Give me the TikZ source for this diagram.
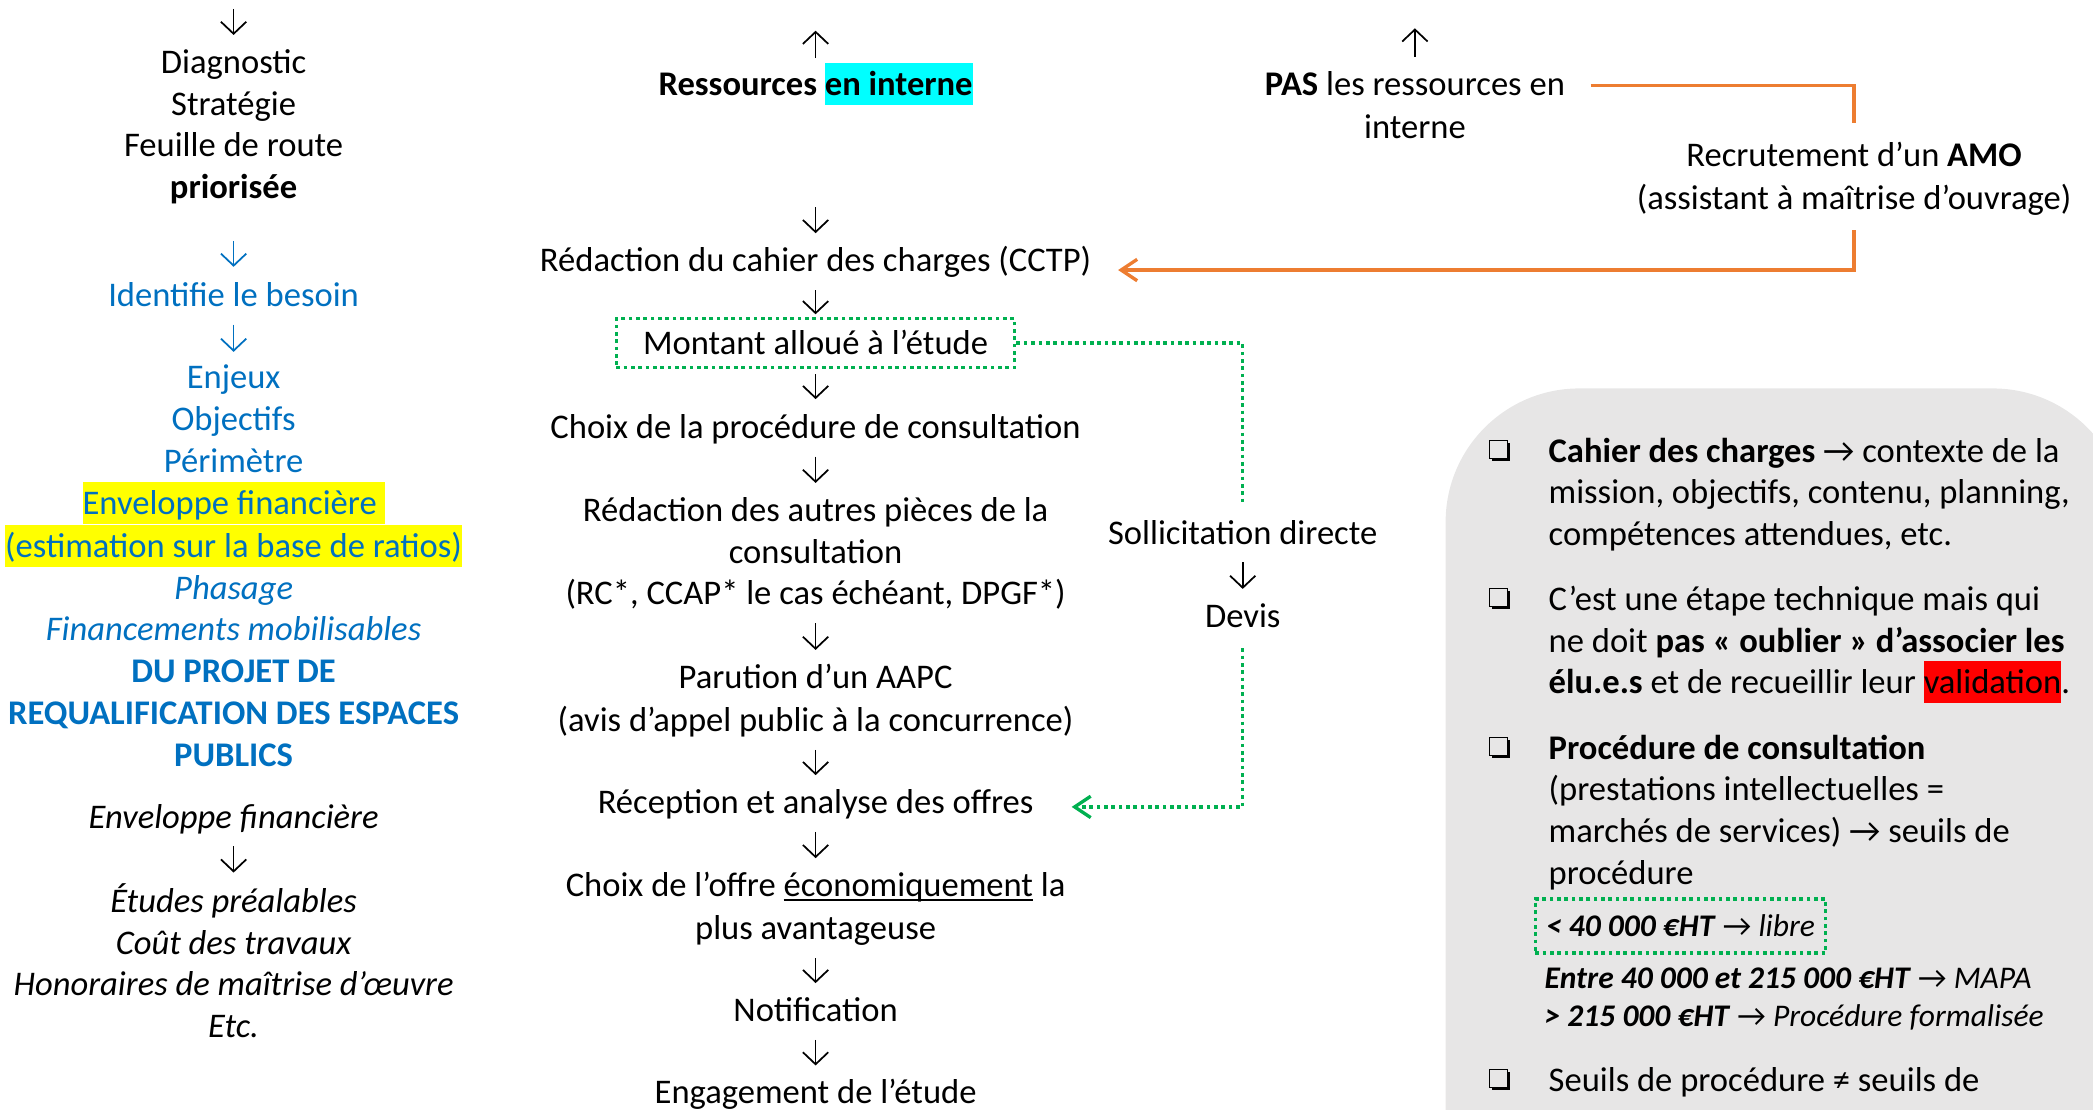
\RequirePackage{fix-cm}
\documentclass[tikz,border=0pt]{standalone}
\usepackage{fontspec}
\setmainfont{Carlito}
\usepackage{xcolor}
\usetikzlibrary{arrows.meta,shadows}
\definecolor{myblue}{HTML}{0070C0}
\definecolor{myorange}{HTML}{ED7D31}
\definecolor{mygreen}{HTML}{00B050}
\definecolor{boxgray}{HTML}{E7E6E6}
\definecolor{hlyellow}{HTML}{FFFF00}
\definecolor{hlcyan}{HTML}{00FFFF}
\definecolor{hlred}{HTML}{FF0000}
\newcommand\mainsz{\fontsize{25.9}{31.3}\selectfont}
\newcommand\smallsz{\fontsize{23.6}{28.6}\selectfont}
\newcommand\asc{\rule[-0.27em]{0pt}{1.2085em}}
\newcommand\hlt[2]{{\setlength{\fboxsep}{0pt}\colorbox{#1}{\asc#2}}}
\newcommand\ulx[1]{\leavevmode\setbox0\hbox{#1}\rlap{\rule[-3.2pt]{\wd0}{1.3pt}}\box0\relax}
\tikzset{
  txt/.style={font=\mainsz, align=center, inner sep=0pt,
    execute at begin node=\asc, execute at end node=\asc},
  ltxt/.style={txt, align=left},
  stxt/.style={font=\smallsz, align=left, inner sep=0pt,
    execute at begin node=\asc, execute at end node=\asc},
  darr/.style={line width=1.3pt, -{Straight Barb[length=9pt,width=19pt]},
    shorten <=6.5pt, shorten >=4.3pt},
  oline/.style={draw=myorange, line width=2.5pt},
  gline/.style={draw=mygreen, line width=2.5pt, dash pattern=on 2.75pt off 2.75pt},
  gbox/.style={draw=mygreen, line width=2.5pt, dash pattern=on 2.75pt off 2.75pt},
  otip/.style={-{Straight Barb[length=12pt,width=16pt]}},
  bul/.style={draw=black, line width=1pt, fill=boxgray, minimum size=13.5pt,
    inner sep=0pt, drop shadow={shadow xshift=1.8pt, shadow yshift=-1.8pt,
    opacity=1, fill=black}}
}
\begin{document}
\begin{tikzpicture}[x=1pt, y=-1pt]
\useasboundingbox (0,0) rectangle (1568,831);
\clip (0,0) rectangle (1568,831);

% grey panel
\fill[boxgray] (1083,840) -- (1083,391) .. controls (1083,335.8) and (1127.8,291) .. (1183,291)
  -- (1493,291) .. controls (1548.2,291) and (1593,335.8) .. (1593,391) -- (1593,840) -- cycle;

% ---------- left column ----------
\coordinate (t0) at (175,6.7);
\node[txt, anchor=north] (diag) at (175,30.5)
  {\asc Diagnostic\\Stratégie\\Feuille de route\\\textbf{priorisée}\asc};
\node[txt, anchor=base, text=myblue] (ident) at (175,229.6) {Identifie le besoin};
\node[txt, anchor=north, text=myblue] (enj) at (175,266.8)
  {\asc Enjeux\\Objectifs\\Périmètre\\\hlt{hlyellow}{Enveloppe financière\ }\\\hlt{hlyellow}{(estimation sur la base de ratios)}\\\textit{Phasage}\\\textit{Financements mobilisables}\\\textbf{DU PROJET DE}\\\textbf{REQUALIFICATION DES ESPACES}\\\textbf{PUBLICS}\asc};
\node[txt, anchor=base] (envb) at (175,620.4) {\textit{Enveloppe financière}};
\node[txt, anchor=north, font=\mainsz\itshape] (etud) at (175,658.9)
  {\asc Études préalables\\Coût des travaux\\Honoraires de maîtrise d’œuvre\\Etc.\asc};

\draw[darr, shorten <=0pt, shorten >=4.3pt] (t0) -- (diag);
\draw[darr, myblue, shorten <=24.3pt, shorten >=5.2pt] (diag) -- (ident);
\draw[darr, myblue, shorten <=6.4pt, shorten >=3.2pt] (ident) -- (enj);
\draw[darr, shorten >=5.2pt] (envb) -- (etud);

% ---------- centre column ----------
\coordinate (u1) at (611,23);
\node[txt, anchor=base] (res) at (611,71.3)
  {\textbf{Ressources} \hlt{hlcyan}{\textbf{en interne}}};
\coordinate (a0) at (611,155.3);
\node[txt, anchor=base] (cctp) at (611,203.5) {Rédaction du cahier des charges (CCTP)};
\node[txt, gbox, inner xsep=20pt, inner ysep=2.6pt, anchor=base] (mont) at (611,265.7)
  {Montant alloué à l’étude};
\node[txt, anchor=base] (proc) at (611,328.3) {Choix de la procédure de consultation};
\node[txt, anchor=north] (pieces) at (611,366.1)
  {\asc Rédaction des autres pièces de la\\consultation\\(RC*, CCAP* le cas échéant, DPGF*)\asc};
\node[txt, anchor=north] (aapc) at (611,491.2)
  {\asc Parution d’un AAPC\\(avis d’appel public à la concurrence)\asc};
\node[txt, anchor=base] (recep) at (611,609.5) {Réception et analyse des offres};
\node[txt, anchor=north] (choix) at (611,647.2)
  {\asc Choix de l’offre \ulx{économiquement} la\\plus avantageuse\asc};
\node[txt, anchor=base] (notif) at (611,765.3) {Notification};
\node[txt, anchor=base] (engag) at (611,827) {Engagement de l’étude};

\draw[darr, shorten <=3.3pt, shorten >=0pt] (res) -- (u1);
\draw[darr, shorten <=0pt] (a0) -- (cctp);
\draw[darr, shorten <=6.8pt, shorten >=2.1pt] (cctp) -- (mont);
\draw[darr, shorten <=3.9pt, shorten >=4.8pt] (mont) -- (proc);
\draw[darr] (proc) -- (pieces);
\draw[darr] (pieces) -- (aapc);
\draw[darr] (aapc) -- (recep);
\draw[darr] (recep) -- (choix);
\draw[darr] (choix) -- (notif);
\draw[darr] (notif) -- (engag);

% ---------- right upper part ----------
\coordinate (u2) at (1060,21.2);
\node[txt, anchor=north] (pas) at (1060,46.7) {\asc\textbf{PAS} les ressources en\\interne\asc};
\node[txt, anchor=north] (amo) at (1389,100)
  {\asc Recrutement d’un \textbf{AMO}\\(assistant à maîtrise d’ouvrage)\asc};
\node[txt, anchor=base] (sol) at (931,407.7) {Sollicitation directe};
\node[txt, anchor=base] (devis) at (931,470) {Devis};

\draw[darr, shorten <=4.2pt, shorten >=0pt] (pas) -- (u2);
\draw[darr] (sol) -- (devis);

\draw[oline] ([xshift=19pt,yshift=14.8pt]pas.east) -| ([yshift=8pt]amo.north);
\draw[oline, otip] ([yshift=-8.4pt]amo.south) |- ([xshift=20pt,yshift=-7.45pt]cctp.east);

\draw[gline] (mont.east) -| ([yshift=7pt]sol.north);
\draw[gline, otip] ([yshift=-8.5pt]devis.south) |- ([xshift=28.5pt,yshift=-3.65pt]recep.east);

% ---------- grey panel text ----------
\node[bul] (q1) at (1122.5,336.5) {};
\node[ltxt, anchor=north west] (b1) at (1160,321.7)
  {\asc\textbf{Cahier des charges} → contexte de la\\mission, objectifs, contenu, planning,\\compétences attendues, etc.\asc};
\node[bul] (q2) at (1122.5,447.5) {};
\node[ltxt, anchor=north west] (b2) at (1160,432.7)
  {\asc C’est une étape technique mais qui\\ne doit \textbf{pas « oublier » d’associer les}\\\textbf{élu.e.s} et de recueillir leur \hlt{hlred}{validation}.\asc};
\node[bul] (q3) at (1122.5,559) {};
\node[ltxt, anchor=north west] (b3) at (1160,544.2)
  {\asc\textbf{Procédure de consultation}\\(prestations intellectuelles =\\marchés de services) → seuils de\\procédure\asc};
\node[stxt, gbox, inner xsep=8pt, inner ysep=6pt, anchor=base west] (s1) at (1149,701.6)
  {\textbf{\textit{< 40 000 €HT}} → \textit{libre}};
\node[stxt, anchor=north west] (s2) at (1157,717.85)
  {\asc\textbf{\textit{Entre 40 000 et 215 000 €HT}} → \textit{MAPA}\\\textbf{\textit{> 215 000 €HT}} → \textit{Procédure formalisée}\asc};
\node[bul] (q4) at (1122.5,808.1) {};
\node[ltxt, anchor=north west] (b4) at (1160,793.3)
  {Seuils de procédure ≠ seuils de};
\end{tikzpicture}
\end{document}
